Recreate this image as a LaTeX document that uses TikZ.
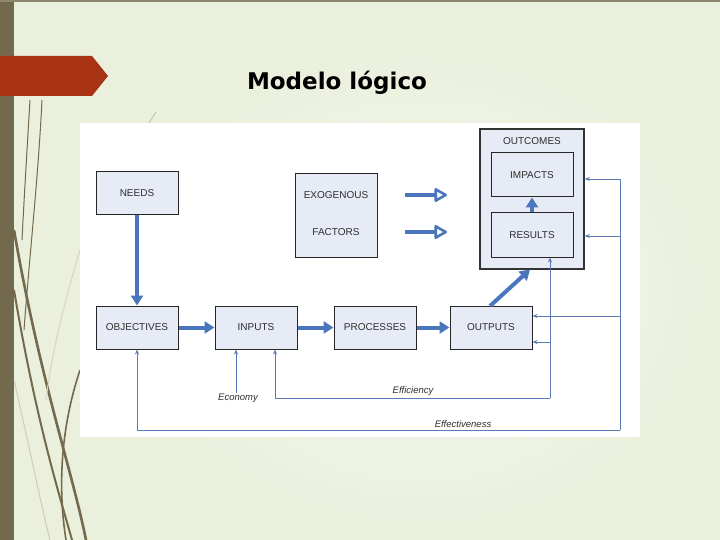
\documentclass[tikz,border=0pt]{standalone}
\usepackage{fontspec}
\setmainfont{Liberation Sans}
\newfontfamily\titlefont{DejaVu Sans}
\usetikzlibrary{arrows.meta}
\definecolor{slidebg}{HTML}{EAF0DC}
\definecolor{slidelight}{HTML}{F6F8F0}
\definecolor{olive}{HTML}{736A4E}
\definecolor{redarrow}{HTML}{A83214}
\definecolor{boxfill}{HTML}{E6EBF5}
\definecolor{bluel}{HTML}{4A76BE}
\definecolor{bluet}{HTML}{5A7AB4}
\definecolor{txt}{HTML}{2E2E2E}
\tikzset{
  box/.style={draw=black!85, line width=1pt, fill=boxfill, minimum width=82pt, minimum height=43pt, inner sep=0pt, font=\fontsize{10}{11}\selectfont, text=txt},
  lbl/.style={font=\fontsize{10}{11}\selectfont, text=txt, inner sep=0pt},
  ital/.style={font=\fontsize{9.5}{10}\selectfont\itshape, text=txt, inner sep=1pt},
  thick arrow/.style={draw=bluel, line width=4pt, -{Triangle[length=10pt,width=12pt]}},
  open arrow/.style={draw=bluel, line width=4pt, -{Triangle[open,length=14pt,width=15pt,line width=2.6pt,round]}},
  thin arrow/.style={draw=bluet, line width=0.9pt, -{Stealth[length=5pt,width=4pt]}},
  thin line/.style={draw=bluet, line width=0.9pt}
}
\begin{document}
\begin{tikzpicture}[x=1pt,y=-1pt]
\useasboundingbox (0,0) rectangle (720,540);
% background
\fill[slidebg] (0,0) rectangle (720,540);
\shade[inner color=slidelight, outer color=slidebg] (120,40) rectangle (720,540);
\fill[olive] (0,0) rectangle (14,540);
\draw[olive!80, line width=1.2pt] (0,1) -- (720,1);
% decorative strokes
\draw[olive, line width=1pt] (42,100) .. controls (38,180) and (30,250) .. (24,330);
\draw[olive, line width=1pt] (30,100) .. controls (27,150) and (24,200) .. (22,240);
\draw[olive, line width=2.6pt] (14,230) .. controls (40,380) and (72,470) .. (86,540);
\draw[olive, line width=2pt] (14,290) .. controls (36,420) and (58,490) .. (72,540);
\draw[olive, line width=1.6pt] (80,370) .. controls (60,430) and (58,490) .. (66,540);
\draw[olive!35, line width=1pt] (14,380) .. controls (30,450) and (40,500) .. (50,540);
\draw[olive!30, line width=1pt] (80,250) .. controls (65,300) and (52,350) .. (46,400);
\draw[gray!60, line width=0.6pt] (156,112) -- (147,126);
% red arrow tab
\fill[redarrow] (0,56) -- (92,56) -- (108,76) -- (92,96) -- (0,96) -- cycle;
% title
\node[font=\titlefont\bfseries\fontsize{23}{26}\selectfont, inner sep=0pt] (title) at (337,83) {Modelo lógico};
% white panel
\fill[white] (80,123) rectangle (640,437);
% boxes
\node[box] (needs) at (137,193) {NEEDS};
\node[box, minimum height=83pt] (exo) at (336,215.5) {};
\node[lbl] (exo1) at (336,195) {EXOGENOUS};
\node[lbl] (exo2) at (336,232) {FACTORS};
\node[box, draw=black!80, line width=1.5pt, minimum width=104pt, minimum height=140pt] (outcomes) at (532,199) {};
\node[lbl] (outl) at (532,141) {OUTCOMES};
\node[box, minimum height=44pt] (impacts) at (532,175) {IMPACTS};
\node[box, minimum height=44pt] (results) at (532,235) {RESULTS};
\node[box] (objectives) at (137,327.5) {OBJECTIVES};
\node[box] (inputs) at (256,327.5) {INPUTS};
\node[box] (processes) at (375,327.5) {PROCESSES};
\node[box] (outputs) at (491,327.5) {OUTPUTS};
% thick arrows
\draw[thick arrow] (needs.south) -- (objectives.north);
\draw[thick arrow] (objectives.east) -- (inputs.west);
\draw[thick arrow] (inputs.east) -- (processes.west);
\draw[thick arrow] (processes.east) -- (outputs.west);
\draw[thick arrow] (results.north) -- (impacts.south);
\draw[thick arrow] (490,306) -- (530,269.5);
\coordinate (e1s) at (405,195); \coordinate (e1e) at (447,195);
\coordinate (e2s) at (405,232); \coordinate (e2e) at (447,232);
\draw[open arrow] (e1s) -- (e1e);
\draw[open arrow] (e2s) -- (e2e);
% labels
\node[ital] (eco) at (238,398) {Economy};
\node[ital] (effi) at (413,391) {Efficiency};
\node[ital] (effe) at (463,424) {Effectiveness};
% economy
\draw[thin arrow] (eco.north -| 236,0) -- (inputs.south -| 236,0);
% efficiency
\coordinate (effL) at (275,398);
\coordinate (effR) at (550,398);
\draw[thin arrow] (effR) -- (effR |- results.south);
\draw[thin arrow] (effR) -- (effL) -- (effL |- inputs.south);
\draw[thin arrow] (550,342) -- (outputs.east |- 0,342);
% effectiveness
\coordinate (efcL) at (137,430);
\coordinate (efcR) at (620,430);
\coordinate (efcT) at (620,179);
\draw[thin arrow] (efcR) -- (efcL) -- (objectives.south);
\draw[thin arrow] (efcR) -- (efcT) -- (outcomes.east |- efcT);
\draw[thin arrow] (620,236) -- (outcomes.east |- 0,236);
\draw[thin arrow] (620,316) -- (outputs.east |- 0,316);
\end{tikzpicture}
\end{document}
